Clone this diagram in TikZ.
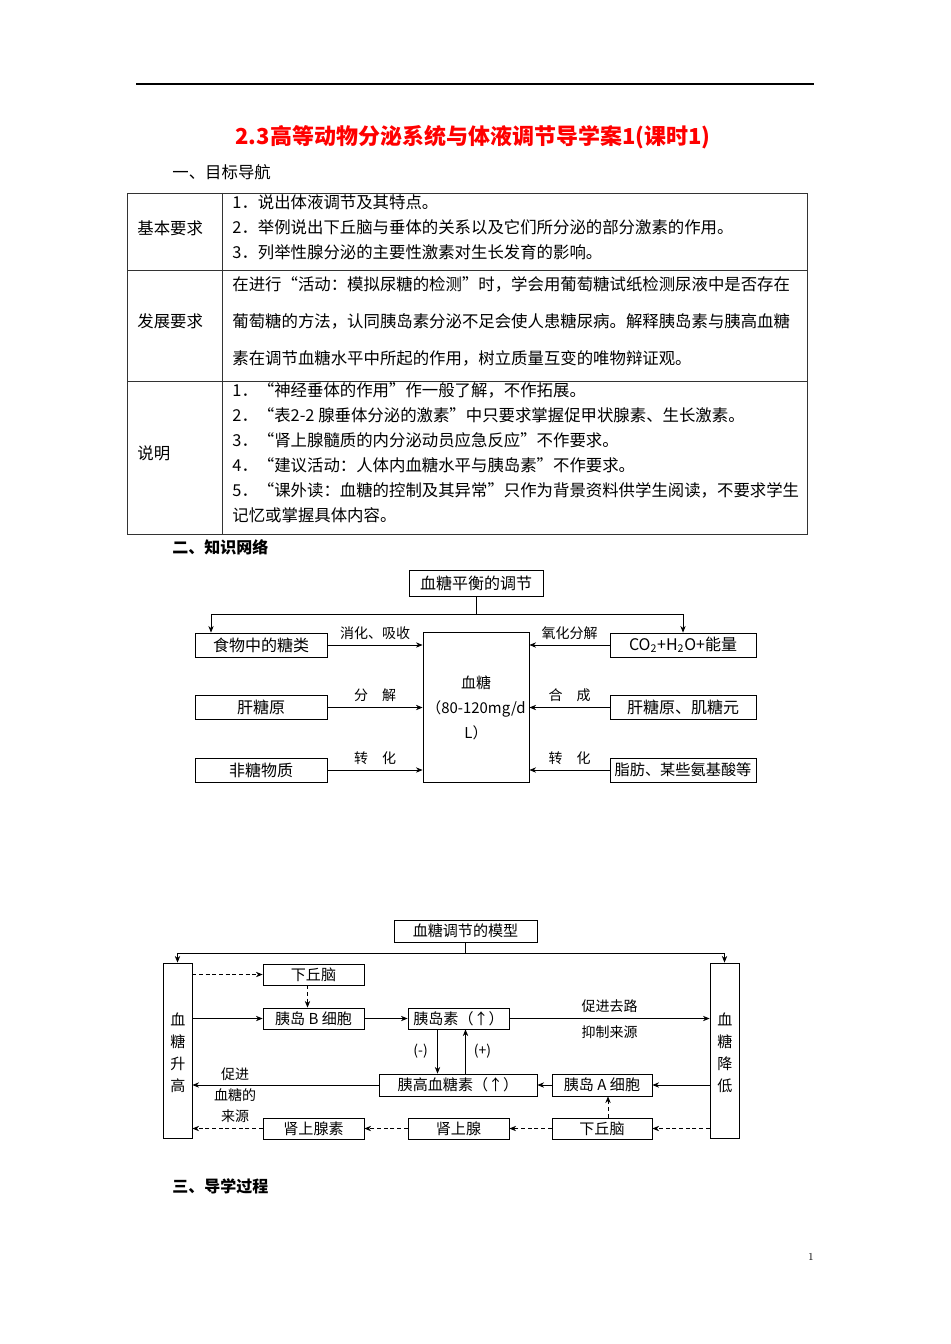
\documentclass[tikz,border=0pt]{standalone}
\usepackage{fontspec}
\newfontfamily\cjk{Noto Sans CJK SC}
\usetikzlibrary{positioning,arrows.meta}

\begin{document}
\begin{tikzpicture}[
  x=0.75pt, y=-0.75pt,
  >={Stealth[length=5pt,width=4pt]},
  line width=0.6pt,
  box/.style={rectangle, draw=black, inner sep=0pt, minimum width=99pt, minimum height=18pt, font=\cjk\fontsize{12}{14}\selectfont},
  mbox/.style={rectangle, draw=black, inner sep=0pt, minimum width=75.75pt, minimum height=15.75pt, font=\cjk\fontsize{11.3}{13}\selectfont},
  tall/.style={rectangle, draw=black, inner sep=0pt, minimum width=21.75pt, minimum height=131.25pt},
  lbl/.style={font=\cjk\fontsize{10.5}{12}\selectfont, inner sep=0pt},
  row/.style={anchor=west, font=\cjk\fontsize{12.3}{14}\selectfont, inner sep=0pt},
  head/.style={anchor=west, font=\cjk\bfseries\fontsize{12}{14}\selectfont, inner sep=0pt},
  dline/.style={dashed, dash pattern=on 3pt off 2pt}
]
\useasboundingbox[fill=white] (0,0) rectangle (950,1344);

% page head
\draw[line width=0.8pt] (136,84) -- (814,84);
\node[font=\cjk\bfseries\fontsize{16.5}{19}\selectfont, text=red] (title) at (473,137) {2.3高等动物分泌系统与体液调节导学案1(课时1)};
\node[row] (sec1) at (172,172) {一、目标导航};

% table
\draw[line width=0.7pt, black!80] (127,193) rectangle (807,534);
\draw[line width=0.7pt, black!80] (222,193) -- (222,534);
\draw[line width=0.7pt, black!80] (127,270) -- (807,270);
\draw[line width=0.7pt, black!80] (127,381) -- (807,381);
\node[row] (k1) at (137,228) {基本要求};
\node[row] (k2) at (137,321) {发展要求};
\node[row] (k3) at (137,453) {说明};
\node[row] (a1) at (232,202) {1．说出体液调节及其特点。};
\node[row] (a2) at (232,227) {2．举例说出下丘脑与垂体的关系以及它们所分泌的部分激素的作用。};
\node[row] (a3) at (232,252) {3．列举性腺分泌的主要性激素对生长发育的影响。};
\node[row] (b1) at (232,284) {在进行“活动：模拟尿糖的检测”时，学会用葡萄糖试纸检测尿液中是否存在};
\node[row] (b2) at (232,321) {葡萄糖的方法，认同胰岛素分泌不足会使人患糖尿病。解释胰岛素与胰高血糖};
\node[row] (b3) at (232,358) {素在调节血糖水平中所起的作用，树立质量互变的唯物辩证观。};
\node[row] (c1) at (232,390) {1．“神经垂体的作用”作一般了解，不作拓展。};
\node[row] (c2) at (232,415) {2．“表2-2 腺垂体分泌的激素”中只要求掌握促甲状腺素、生长激素。};
\node[row] (c3) at (232,440) {3．“肾上腺髓质的内分泌动员应急反应”不作要求。};
\node[row] (c4) at (232,465) {4．“建议活动：人体内血糖水平与胰岛素”不作要求。};
\node[row] (c5) at (232,490) {5．“课外读：血糖的控制及其异常”只作为背景资料供学生阅读，不要求学生};
\node[row] (c6) at (232,515) {记忆或掌握具体内容。};

\node[head] (sec2) at (172,547) {二、知识网络};

% blood sugar balance
\node[box, minimum width=100.5pt, minimum height=19.5pt] (reg) at (476,583) {血糖平衡的调节};
\node[box] (food) at (261,645) {食物中的糖类};
\node[box] (liver) at (261,707.5) {肝糖原};
\node[box] (nons) at (261,770) {非糖物质};
\node[box, minimum width=109.5pt] (co2) at (683,645) {CO\textsubscript{2}+H\textsubscript{2}O+能量};
\node[box, minimum width=109.5pt] (glyc) at (683,707.5) {肝糖原、肌糖元};
\node[box, minimum width=109.5pt, font=\cjk\fontsize{11.4}{14}\selectfont] (fat) at (683,770) {脂肪、某些氨基酸等};
\node[box, minimum width=79.5pt, minimum height=112.5pt, align=center, font=\cjk\fontsize{11.2}{18.75}\selectfont] (sugar) at (476,707.5) {血糖\\（80-120mg/d\\L）};
\draw (reg.south) -- ++(0,18) coordinate (rj);
\draw[->] (rj) -| ([xshift=-37.5pt]food.north);
\draw[->] (rj) -| (co2.north);
\draw[->] (food.east) -- node[lbl, above=4pt] {消化、吸收} (sugar.west |- food);
\draw[->] (liver.east) -- node[lbl, above=4pt] {分\quad 解} (sugar.west |- liver);
\draw[->] (nons.east) -- node[lbl, above=4pt] {转\quad 化} (sugar.west |- nons);
\draw[->] (co2.west) -- node[lbl, above=4pt] {氧化分解} (sugar.east |- co2);
\draw[->] (glyc.west) -- node[lbl, above=4pt] {合\quad 成} (sugar.east |- glyc);
\draw[->] (fat.west) -- node[lbl, above=4pt] {转\quad 化} (sugar.east |- fat);

% blood sugar model
\node[mbox, minimum width=107.25pt, minimum height=16.5pt] (model) at (465.5,931) {血糖调节的模型};
\node[tall] (up) at (177.5,1050.5) {};
\node[tall] (down) at (724.5,1050.5) {};
\node[align=center, font=\cjk\fontsize{11.3}{16.5}\selectfont] (uptxt) at (178,1053) {血\\糖\\升\\高};
\node[align=center, font=\cjk\fontsize{11.3}{16.5}\selectfont] (downtxt) at (725,1053) {血\\糖\\降\\低};
\node[mbox] (hypa) at (313.5,974.5) {下丘脑};
\node[mbox] (beta) at (313.5,1018.5) {胰岛 B 细胞};
\node[mbox] (ins) at (458.5,1018.5) {胰岛素（↑）};
\node[mbox, minimum width=118.5pt, minimum height=16.5pt] (glu) at (458,1085) {胰高血糖素（↑）};
\node[mbox, minimum width=75pt, minimum height=16.5pt] (alpha) at (602,1085) {胰岛 A 细胞};
\node[mbox] (adr) at (313.5,1128.5) {肾上腺素};
\node[mbox] (gland) at (458.5,1128.5) {肾上腺};
\node[mbox, minimum width=75pt] (hypb) at (602,1128.5) {下丘脑};
\draw (model.south) -- ++(0,11) coordinate (mj);
\draw[->] (mj) -| (up.north);
\draw[->] (mj) -| (down.north);
\draw[dline, ->] (up.east |- hypa) -- (hypa.west);
\draw[dline, ->] ([xshift=-4.5pt]hypa.south) -- ([xshift=-4.5pt]beta.north);
\draw[->] (up.east |- beta) -- (beta.west);
\draw[->] (beta.east) -- (ins.west);
\draw[->] (ins.east) -- node[lbl, above=4pt] {促进去路} node[lbl, below=5pt] {抑制来源} (down.west |- ins);
\draw[->] ([xshift=-15.75pt]ins.south) -- node[lbl, left=7pt] {(-)} ([xshift=-15.75pt]ins.south |- glu.north);
\draw[->] ([xshift=5.25pt]ins.south |- glu.north) -- node[lbl, right=6pt] {(+)} ([xshift=5.25pt]ins.south);
\draw[->] (down.west |- alpha) -- (alpha.east);
\draw[->] (alpha.west) -- (glu.east);
\draw[->] (glu.west) -- (up.east |- glu);
\node[lbl] (l1) at (235,1074) {促进};
\node[lbl] (l2) at (235,1095) {血糖的};
\node[lbl] (l3) at (235,1116) {来源};
\draw[dline, ->] (down.west |- hypb) -- (hypb.east);
\draw[dline, ->] (hypb.west) -- (gland.east);
\draw[dline, ->] (gland.west) -- (adr.east);
\draw[dline, ->] (adr.west) -- (up.east |- adr);
\draw[dline, ->] ([xshift=4.5pt]hypb.north) -- ([xshift=4.5pt]alpha.south);

\node[head] (sec3) at (172,1186) {三、导学过程};
\node[font=\fontsize{8}{9}\selectfont] (pg) at (811,1257) {1};
\end{tikzpicture}
\end{document}
